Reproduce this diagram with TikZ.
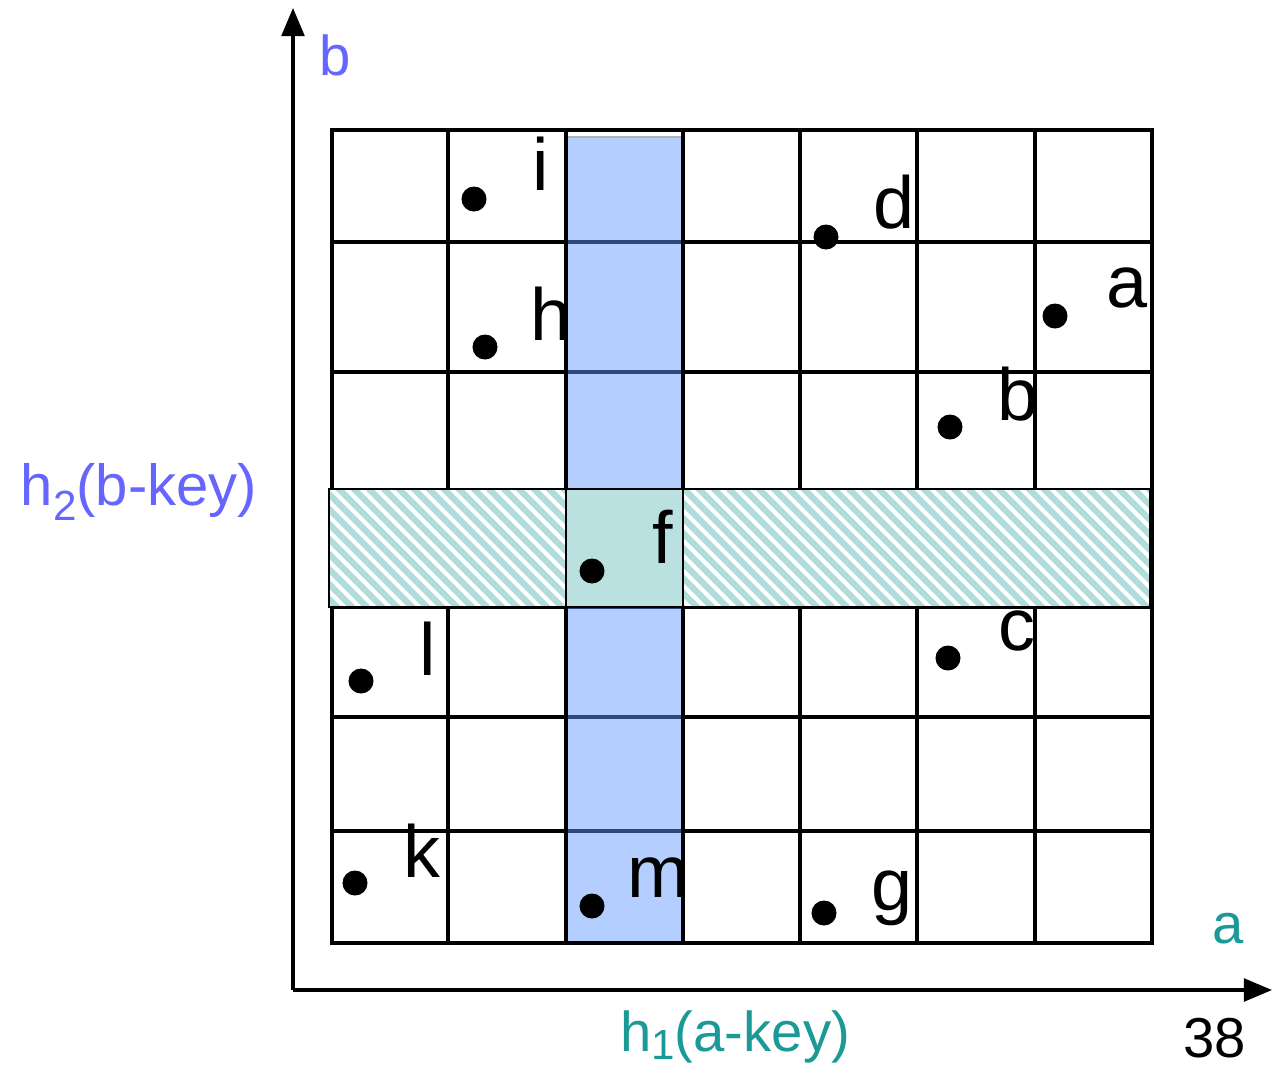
\documentclass[tikz,border=0pt]{standalone}
\usepackage{fontspec}
\setmainfont{Liberation Sans}
\usetikzlibrary{arrows.meta}
\definecolor{axblue}{RGB}{102,102,255}
\definecolor{axteal}{RGB}{26,153,150}
\definecolor{colblue}{RGB}{96,153,255}
\definecolor{hatchteal}{RGB}{176,220,220}
\definecolor{cellteal}{RGB}{186,224,224}
\tikzset{
  gridline/.style={line width=0.95pt, black},
  axisline/.style={line width=0.9pt, black, -{Triangle[length=8pt,width=6.5pt]}},
  pt/.style={circle, fill=black, inner sep=0pt, minimum size=0.25cm},
  lbl/.style={anchor=base, inner sep=0pt, font=\fontsize{21}{24}\selectfont},
  axlbl/.style={anchor=base, inner sep=0pt, font=\fontsize{16}{19}\selectfont},
}
\begin{document}
\begin{tikzpicture}[x=0.01cm, y=-0.01cm]
\useasboundingbox (0,0) rectangle (1278,1069);
% grid horizontal lines
\foreach \y in {242,372,490,607,717,831} \draw[gridline] (332,\y) -- (1152,\y);
% blue column (semi-transparent)
\fill[colblue, fill opacity=0.48] (567,137) rectangle (682,943);
\draw[gray!60, line width=0.3pt] (567,137) -- (682,137);
% grid vertical lines
\foreach \x in {448,566,683,800,917,1035} \draw[gridline] (\x,130) -- (\x,943);
\draw[line width=1.15pt] (332,130) rectangle (1152,943);
% hatched row
\fill[white] (329,489) rectangle (1150,607);
\begin{scope}
  \clip (329,489) rectangle (1150,607);
  \foreach \s in {180,195,...,1165} \draw[hatchteal, line width=1.75pt] (\s,480) -- ++(140,140);
\end{scope}
\draw[line width=0.5pt] (329,489) rectangle (1150,607);
\fill[cellteal] (566,489) rectangle (683,607);
\draw[line width=0.8pt] (566,489) rectangle (683,607);
% axes
\coordinate (O) at (293,990);
\coordinate (Ytip) at (293,8);
\coordinate (Xtip) at (1272,990);
\draw[axisline] (O) -- (Ytip);
\draw[axisline] (O) -- (Xtip);
% points
\node[pt] (pi) at (474,199) {};
\node[pt] (ph) at (485,347) {};
\node[pt] (pd) at (826,237) {};
\node[pt] (pa) at (1055,316) {};
\node[pt] (pb) at (950,427) {};
\node[pt] (pf) at (592,571) {};
\node[pt] (pc) at (948,658) {};
\node[pt] (pl) at (361,681) {};
\node[pt] (pk) at (355,883) {};
\node[pt] (pm) at (592,906) {};
\node[pt] (pg) at (824,913) {};
% point labels
\node[lbl] (li) at (541,190) {i};
\node[lbl] (lh) at (551,340) {h};
\node[lbl] (ld) at (894,228) {d};
\node[lbl] (la) at (1127,307) {a};
\node[lbl] (lb) at (1018,420) {b};
\node[lbl] (lf) at (663,563) {f};
\node[lbl] (lc) at (1017,650) {c};
\node[lbl] (ll) at (428,675) {l};
\node[lbl] (lk) at (422,877) {k};
\node[lbl] (lm) at (658,897) {m};
\node[lbl] (lg) at (892,910) {g};
% axis labels
\node[axlbl, text=axblue] (bl) at (335,75) {b};
\node[axlbl, text=axteal] (al) at (1228,943) {a};
\node[axlbl, text=axblue, font=\fontsize{16.5}{19}\selectfont] (h2) at (139,505) {h\raisebox{-0.5ex}{\fontsize{12}{13}\selectfont 2}(b-key)};
\node[axlbl, text=axteal] (h1) at (735,1051) {h\raisebox{-0.3ex}{\fontsize{12}{13}\selectfont 1}(a-key)};
\node[axlbl] (pg38) at (1215,1057) {38};
\end{tikzpicture}
\end{document}
